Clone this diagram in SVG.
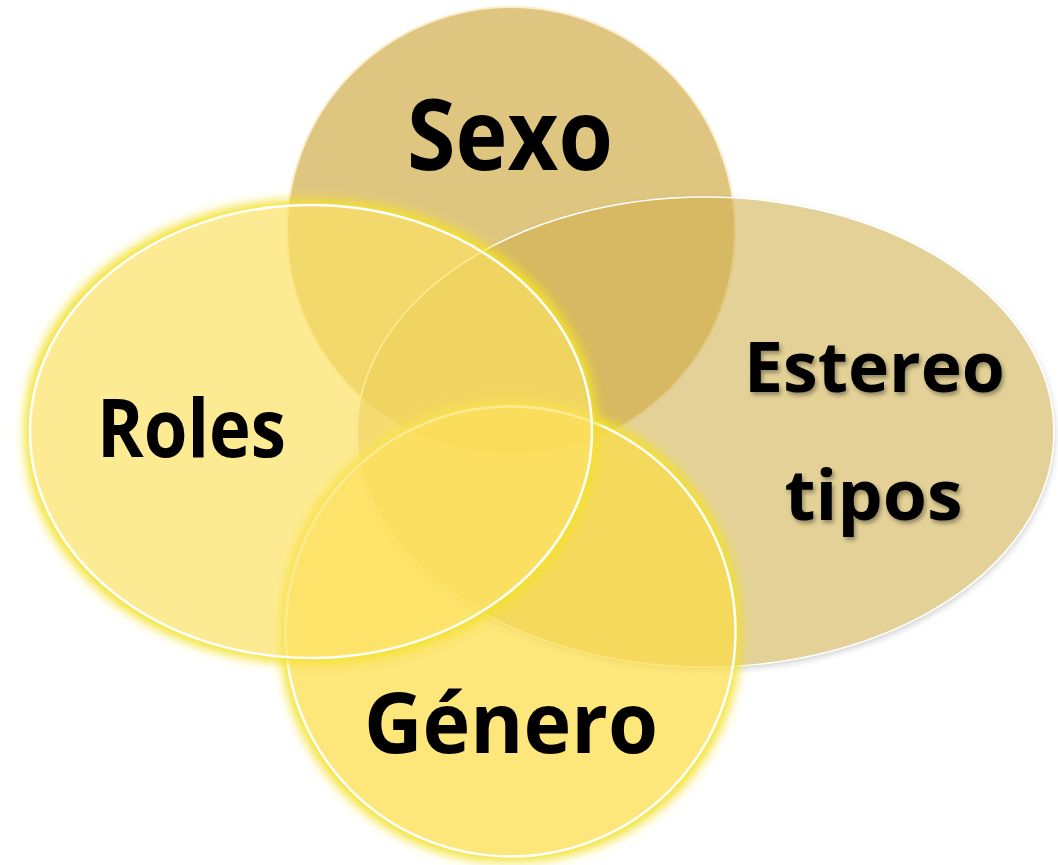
<svg xmlns="http://www.w3.org/2000/svg" width="1058" height="865" viewBox="0 0 1058 865">
  <style>
    .lbl { font-family: "Open Sans", "Noto Sans", "Liberation Sans", sans-serif; font-weight: 700; fill: #000; text-anchor: middle; }
    .edge { stroke: #ffffff; stroke-width: 2.5; }
  </style>
  <defs>
    <filter id="outerGlow" x="-15%" y="-15%" width="130%" height="130%">
      <feMorphology in="SourceAlpha" operator="dilate" radius="5" result="d"/>
      <feGaussianBlur in="d" stdDeviation="5.5" result="b"/>
      <feFlood flood-color="#f3e12c" flood-opacity="1"/>
      <feComposite in2="b" operator="in" result="g"/>
      <feComposite in="g" in2="SourceAlpha" operator="out"/>
    </filter>
    <filter id="softShadow" x="-10%" y="-10%" width="120%" height="125%">
      <feGaussianBlur in="SourceAlpha" stdDeviation="3" result="b"/>
      <feOffset in="b" dx="1" dy="3" result="o"/>
      <feFlood flood-color="#000" flood-opacity="0.18"/>
      <feComposite in2="o" operator="in" result="s"/>
      <feComposite in="s" in2="SourceAlpha" operator="out"/>
    </filter>
    <filter id="textShadow" x="-10%" y="-20%" width="120%" height="150%">
      <feGaussianBlur in="SourceAlpha" stdDeviation="2" result="b"/>
      <feOffset in="b" dx="2" dy="3" result="o"/>
      <feFlood flood-color="#000" flood-opacity="0.35"/>
      <feComposite in2="o" operator="in" result="s"/>
      <feMerge><feMergeNode in="s"/><feMergeNode in="SourceGraphic"/></feMerge>
    </filter>
  </defs>
  <rect width="1058" height="865" fill="#ffffff"/>

  <g id="sexo">
    <circle cx="511" cy="231" r="224" fill="#dfc680" stroke="#fbeccb" stroke-width="2"/>
    <text class="lbl" x="510" y="170" font-size="98" textLength="206" lengthAdjust="spacingAndGlyphs">Sexo</text>
  </g>

  <g id="estereotipos">
    <ellipse cx="705.5" cy="432" rx="348.5" ry="235" fill="#000" filter="url(#softShadow)"/>
    <ellipse cx="705.5" cy="432" rx="348.5" ry="235" fill="#cfb04c" fill-opacity="0.58" stroke="#ffffff" stroke-width="1.6"/>
    <g filter="url(#textShadow)">
      <text class="lbl" x="874.5" y="392" font-size="69" textLength="261" lengthAdjust="spacingAndGlyphs">Estereo</text>
      <text class="lbl" x="873.5" y="520" font-size="69" textLength="178" lengthAdjust="spacingAndGlyphs">tipos</text>
    </g>
  </g>

  <g id="genero">
    <circle cx="510.5" cy="631.5" r="225" fill="#000" filter="url(#outerGlow)"/>
    <circle cx="510.5" cy="631.5" r="225" fill="#fcdc46" fill-opacity="0.72" class="edge"/>
    <text class="lbl" x="511" y="753" font-size="84" textLength="294" lengthAdjust="spacingAndGlyphs">Género</text>
  </g>

  <g id="roles">
    <ellipse cx="311" cy="431.5" rx="281" ry="226.5" fill="#000" filter="url(#outerGlow)"/>
    <ellipse cx="311" cy="431.5" rx="281" ry="226.5" fill="#fce262" fill-opacity="0.68" class="edge"/>
    <text class="lbl" x="191.5" y="457" font-size="80" textLength="189" lengthAdjust="spacingAndGlyphs">Roles</text>
  </g>

  <g id="connectors"></g>
</svg>
